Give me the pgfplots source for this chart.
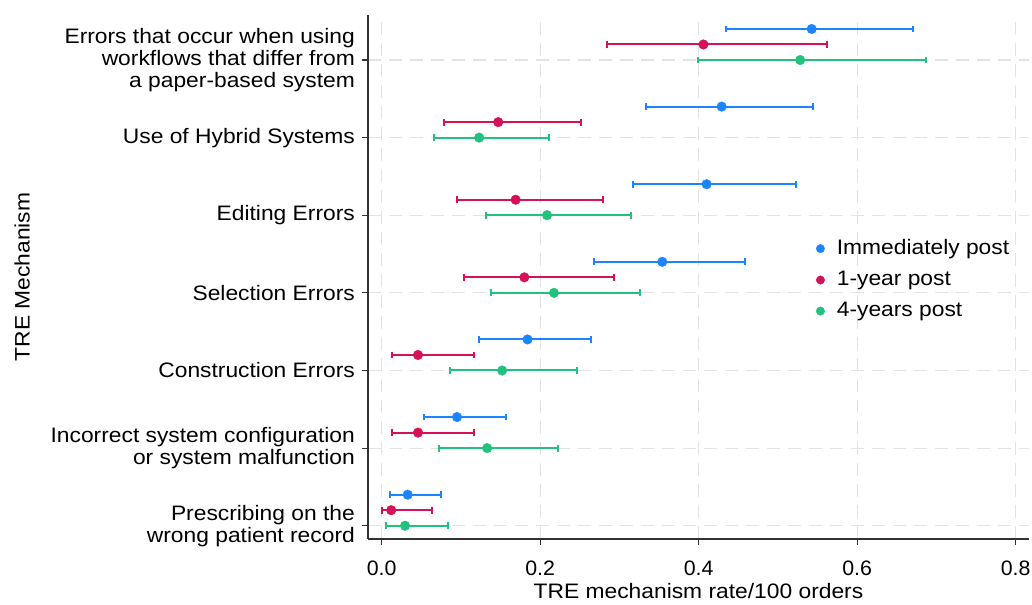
\documentclass[border=0pt]{standalone}
\usepackage{fontspec}
\setmainfont{Liberation Sans}[FakeStretch=1.09]
\newfontfamily\tickfont{Liberation Sans}[FakeStretch=1.02]
\usepackage{pgfplots}
\usepackage{pgfplotstable}
\pgfplotsset{compat=1.18}
\definecolor{cblue}{HTML}{1A85FF}
\definecolor{cred}{HTML}{D41159}
\definecolor{cgreen}{HTML}{20C27E}
\definecolor{cgrid}{HTML}{E3E3E3}
\definecolor{caxis}{HTML}{333333}

% columns: y position, estimate, lower, upper
\pgfplotstableread{
y x lo hi
6.4 0.5426 0.434 0.670
5.4 0.429 0.334 0.5446
4.4 0.410 0.317 0.523
3.4 0.354 0.268 0.459
2.4 0.184 0.123 0.264
1.4 0.095 0.0534 0.157
0.4 0.0328 0.011 0.0748
}\immed
\pgfplotstableread{
y x lo hi
6.2 0.406 0.284 0.5615
5.2 0.147 0.0786 0.251
4.2 0.169 0.095 0.279
3.2 0.180 0.104 0.293
2.2 0.0458 0.013 0.116
1.2 0.0458 0.013 0.116
0.2 0.012 0.0004 0.064
}\oneyear
\pgfplotstableread{
y x lo hi
6 0.528 0.399 0.687
5 0.123 0.066 0.211
4 0.2086 0.131 0.315
3 0.2174 0.138 0.326
2 0.152 0.0866 0.2464
1 0.133 0.0727 0.223
0 0.0294 0.0058 0.084
}\fouryear

\begin{document}
\fontsize{21}{22}\selectfont
\begin{tikzpicture}
\path[use as bounding box] (0,0) rectangle (1032bp,605bp);
\begin{axis}[
  at={(368bp,66bp)}, anchor=south west,
  scale only axis, width=661bp, height=524bp,
  xmin=-0.0173, xmax=0.8168, ymin=-0.171, ymax=6.58,
  axis x line=bottom, axis y line=left,
  axis line style={-, caxis, line width=1.2bp},
  tick align=outside, major tick length=6bp,
  tick style={caxis, line width=1.2bp},
  xtick={0,0.2,0.4,0.6,0.8},
  xticklabels={0.0,0.2,0.4,0.6,0.8},
  ytick={0,1,2,3,4,5,6},
  yticklabels={{Prescribing on the\\wrong patient record},
    {Incorrect system configuration\\or system malfunction},
    {Construction Errors},{Selection Errors},{Editing Errors},
    {Use of Hybrid Systems},
    {Errors that occur when using\\workflows that differ from\\a paper-based system}},
  yticklabel style={align=right, font=\fontsize{21}{22}\selectfont},
  xticklabel style={font=\tickfont\fontsize{21}{22}\selectfont, yshift=-9bp},
  /pgf/number format/assume math mode=true,
  grid=major,
  major grid style={cgrid, line width=1.2bp, dash pattern=on 13bp off 8bp},
  xlabel={TRE mechanism rate/100 orders},
  ylabel={TRE Mechanism},
  xlabel style={at={(axis description cs:0.5,-0.0992)}, anchor=center, font=\fontsize{21}{22}\selectfont},
  ylabel style={at={(axis description cs:-0.5234,0.5)}, anchor=center, font=\fontsize{21}{22}\selectfont},
  legend style={at={(axis description cs:0.6775,0.572)}, anchor=north west,
    draw=none, fill=none, font=\fontsize{21}{22}\selectfont,
    row sep=13.5bp, column sep=12bp, inner sep=0pt, nodes={inner sep=0pt}},
  legend cell align=left,
  legend image code/.code={\fill[#1] (4.2bp,0bp) circle (4.2bp);},
  clip=false,
]
\addplot[cblue, only marks, mark=*, mark size=4.8bp,
  error bars/.cd, x dir=both, x explicit, error mark=|,
  error bar style={line width=2bp, cblue},
  error mark options={line width=2bp, mark size=3.4bp, cblue}]
  table[x=x, y=y, x error plus expr=\thisrow{hi}-\thisrow{x}, x error minus expr=\thisrow{x}-\thisrow{lo}] {\immed};
\addlegendentry{Immediately post}
\addplot[cred, only marks, mark=*, mark size=4.8bp,
  error bars/.cd, x dir=both, x explicit, error mark=|,
  error bar style={line width=2bp, cred},
  error mark options={line width=2bp, mark size=3.4bp, cred}]
  table[x=x, y=y, x error plus expr=\thisrow{hi}-\thisrow{x}, x error minus expr=\thisrow{x}-\thisrow{lo}] {\oneyear};
\addlegendentry{1-year post}
\addplot[cgreen, only marks, mark=*, mark size=4.8bp,
  error bars/.cd, x dir=both, x explicit, error mark=|,
  error bar style={line width=2bp, cgreen},
  error mark options={line width=2bp, mark size=3.4bp, cgreen}]
  table[x=x, y=y, x error plus expr=\thisrow{hi}-\thisrow{x}, x error minus expr=\thisrow{x}-\thisrow{lo}] {\fouryear};
\addlegendentry{4-years post}
\end{axis}
\end{tikzpicture}
\end{document}
